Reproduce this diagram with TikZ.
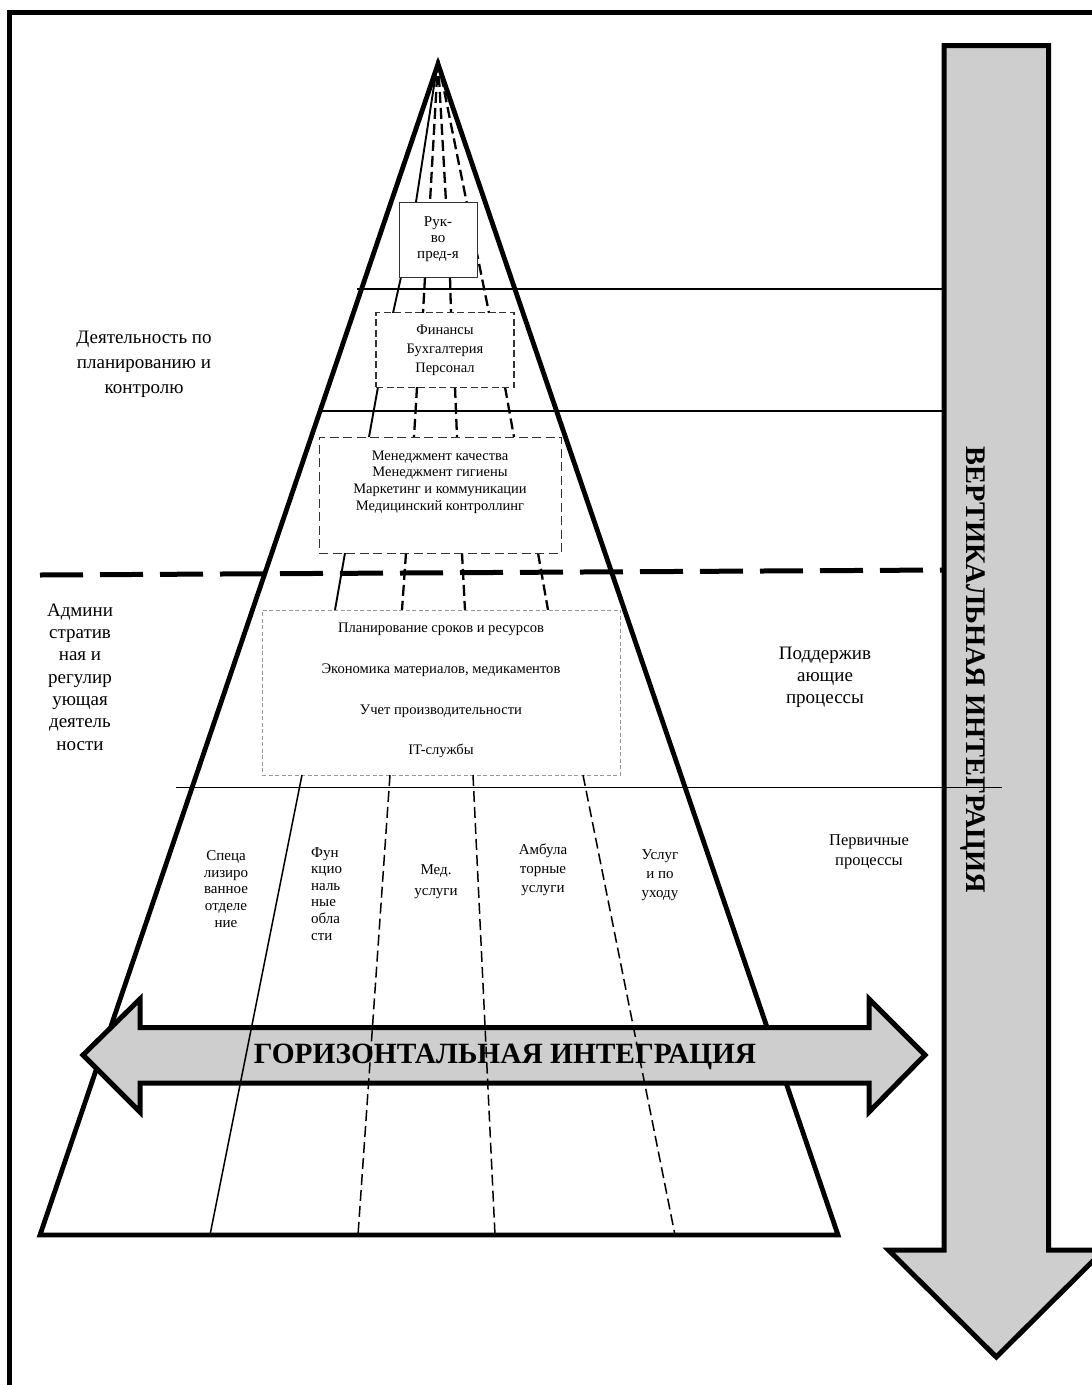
\documentclass[tikz,border=0pt]{standalone}
\usepackage{fontspec}
\setmainfont{Liberation Serif}
\definecolor{arrowfill}{RGB}{206,206,206}
\definecolor{boxline}{RGB}{50,50,50}
\definecolor{lightdash}{RGB}{150,150,150}
\tikzset{
  frameline/.style={line width=5pt},
  pyr/.style={line width=4.8pt, line join=miter},
  level/.style={line width=1.6pt},
  bigdash/.style={line width=5pt, dash pattern=on 43pt off 17pt},
  fansolid/.style={line width=1.9pt},
  fandash/.style={line width=2.3pt, dash pattern=on 11pt off 5pt},
  divsolid/.style={line width=1.5pt},
  divdash/.style={line width=1.5pt, dash pattern=on 11pt off 5pt},
  solidbox/.style={draw=boxline, line width=1pt, fill=white, align=center, inner sep=0pt},
  dbox/.style={draw=boxline, line width=1.3pt, dash pattern=on 7pt off 3.5pt, fill=white, align=center, inner sep=0pt},
  dboxwide/.style={draw=boxline, line width=1.3pt, dash pattern=on 9pt off 4.5pt, fill=white, inner sep=0pt},
  lbox/.style={draw=lightdash, line width=1pt, dash pattern=on 4pt off 2.5pt, fill=white, inner sep=0pt},
  txt/.style={align=center, inner sep=0pt},
  fatarrow/.style={draw=black, line width=5pt, fill=arrowfill, line join=miter}
}
\begin{document}
\begin{tikzpicture}[x=1pt,y=-1pt]
\useasboundingbox (0,0) rectangle (1092,1385);

% outer frame
\draw[frameline] (9.5,1400) -- (9.5,12.5) -- (1100,12.5);

% level rules
\draw[level] (357,289) -- (943,289);
\draw[level] (320,411) -- (946,411);
\draw[bigdash] (40,575) -- (943,570);

% pyramid outline
\draw[pyr] (40,1235) -- (438,64) -- (838,1235) -- cycle;

% fan lines from the apex through the management levels
\coordinate (apex) at (438,60);
\draw[fansolid] (apex) -- (416,202);
\draw[fandash] (apex) -- (430,202);
\draw[fandash] (apex) -- (446,202);
\draw[fandash] (apex) -- (489,313);
\draw[fansolid] (401,277) -- (393,313);
\draw[fandash] (425,277) -- (423,313);
\draw[fandash] (450,277) -- (451,313);
\draw[fansolid] (378,387) -- (369,437);
\draw[fandash] (417,387) -- (414,437);
\draw[fandash] (455,387) -- (457,437);
\draw[fandash] (505,387) -- (514,437);
\draw[fansolid] (345,553) -- (335,610);
\draw[fandash] (406,553) -- (402,610);
\draw[fandash] (462,553) -- (465,610);
\draw[fandash] (538,553) -- (548,610);

% boxes of the levels
\node[solidbox, minimum width=78, minimum height=75,
      font=\fontsize{15}{16}\selectfont] (ruk) at (438,239.5) {Рук-\\во\\пред-я};
\node[dbox, minimum width=138, minimum height=74.6,
      font=\fontsize{14.5}{19}\selectfont] (fin) at (445,350) {Финансы\\Бухгалтерия\\Персонал};
\node[dboxwide, minimum width=242, minimum height=116] (man) at (440.2,495.3) {};
\node[txt, font=\fontsize{14.5}{16.8}\selectfont] (mantxt) at (440,482)
  {Менеджмент качества\\Менеджмент гигиены\\Маркетинг и коммуникации\\Медицинский контроллинг};
\node[lbox, minimum width=358.4, minimum height=165] (plan) at (441.5,692.5) {};
\node[txt, font=\fontsize{14.6}{40.8}\selectfont] (plantxt) at (441,690.5)
  {Планирование сроков и ресурсов\\Экономика материалов, медикаментов\\Учет производительности\\IT-службы};

% side labels
\node[txt, font=\fontsize{19}{25}\selectfont] (plan-ctl) at (144,364)
  {Деятельность по\\планированию и\\контролю};
\node[txt, font=\fontsize{19}{22.3}\selectfont] (admin) at (80,677)
  {Админи\\стратив\\ная и\\регулир\\ующая\\деятель\\ности};
\node[txt, font=\fontsize{19}{22}\selectfont] (support) at (825,677)
  {Поддержив\\ающие\\процессы};
\node[txt, font=\fontsize{16.5}{20}\selectfont] (primary) at (869,852)
  {Первичные\\процессы};

% primary process columns
\node[txt, font=\fontsize{15}{16.8}\selectfont] (spec) at (226,889)
  {Спеца\\лизиро\\ванное\\отделе\\ние};
\node[txt, align=left, anchor=north west, font=\fontsize{15}{16.6}\selectfont] (func) at (311,847)
  {Фун\\кцио\\наль\\ные\\обла\\сти};
\node[txt, font=\fontsize{15}{21}\selectfont] (med) at (436,882) {Мед.\\услуги};
\node[txt, font=\fontsize{15}{19}\selectfont] (amb) at (543,870) {Амбула\\торные\\услуги};
\node[txt, font=\fontsize{15}{19}\selectfont] (care) at (660,875) {Услуг\\и по\\уходу};

% vertical integration arrow
\draw[fatarrow] (944,45.5) -- (1048.5,45.5) -- (1048.5,1250) -- (1104,1250)
  -- (996.3,1357) -- (888.5,1250) -- (944,1250) -- cycle;
\node[inner sep=0pt, rotate=-90, font=\bfseries\fontsize{28.4}{28.4}\selectfont] (vtxt)
  at (973,670) {ВЕРТИКАЛЬНАЯ ИНТЕГРАЦИЯ};

% rule between supporting and primary processes
\draw[level] (176,787.5) -- (1002,787.5);

% horizontal integration arrow
\draw[fatarrow] (83,1055) -- (140,999) -- (140,1027.5) -- (869,1027.5) -- (869,999)
  -- (925,1055) -- (869,1112) -- (869,1083) -- (140,1083) -- (140,1112) -- cycle;
\node[inner sep=0pt, font=\bfseries\fontsize{29.4}{29.4}\selectfont] (htxt)
  at (505,1057) {ГОРИЗОНТАЛЬНАЯ ИНТЕГРАЦИЯ};

% column dividers of the primary processes
\draw[divsolid] (302,775) -- (210,1235);
\draw[divdash] (390,775) -- (358,1235);
\draw[divdash] (473,775) -- (495,1235);
\draw[divdash] (583,775) -- (675,1235);
\end{tikzpicture}
\end{document}
